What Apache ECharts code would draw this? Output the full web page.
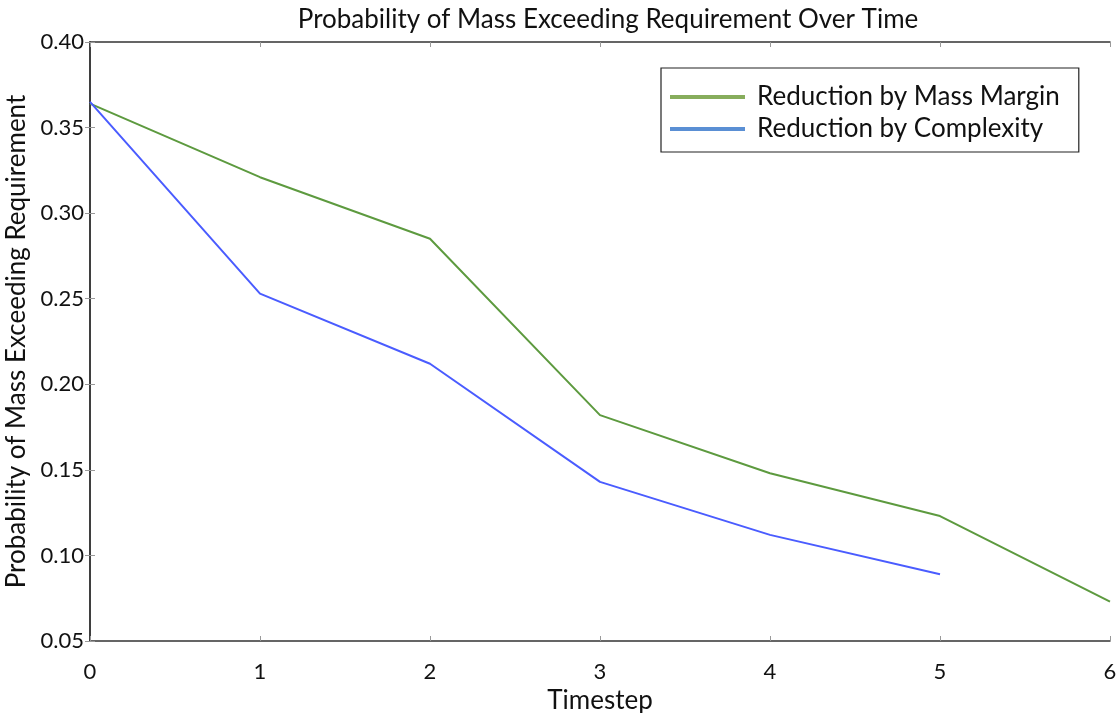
<!DOCTYPE html>
<html>
<head>
<meta charset="utf-8">
<script src="https://cdn.jsdelivr.net/npm/echarts@6/dist/echarts.min.js"></script>
<style>html,body{margin:0;padding:0;background:#fff}#c{width:1119px;height:713px}</style>
</head>
<body>
<div id="c"></div>
<script>
var timesteps = [0, 1, 2, 3, 4, 5, 6];
var massMargin = [0.364, 0.321, 0.285, 0.182, 0.148, 0.123, 0.073];
var complexity = [0.365, 0.253, 0.212, 0.143, 0.112, 0.089];
var seriesNames = ['Reduction by Mass Margin', 'Reduction by Complexity'];

var FONT = 'Lato, "Open Sans", sans-serif';
function pairs(ys){ return ys.map(function(v,i){ return [timesteps[i], v]; }); }

var chart = echarts.init(document.getElementById('c'));
var axisLine = {show:true, lineStyle:{color:'#333', width:1.5}};
var tick = {show:true, inside:true, length:5, lineStyle:{color:'#999', width:1}};
chart.setOption({
  animation:false,
  title:{text:'Probability of Mass Exceeding Requirement Over Time', left:603, top:2, textAlign:'center',
    textStyle:{fontFamily:FONT, fontSize:26, fontWeight:'normal', color:'#111'}},
  grid:{left:90, right:9, top:42, bottom:72, outerBoundsMode:'none', containLabel:false},
  legend:{
    orient:'vertical', left:661, top:68, itemWidth:75, itemHeight:4, itemGap:6,
    padding:[16,19,10,9], borderColor:'#222', borderWidth:1.2, backgroundColor:'#fff',
    textStyle:{fontFamily:FONT, fontSize:26, color:'#111', padding:[0,0,0,7]},
    data:[
      {name:seriesNames[0], icon:'rect', itemStyle:{color:'#87ad5c'}},
      {name:seriesNames[1], icon:'rect', itemStyle:{color:'#5a8fd4'}}
    ]
  },
  xAxis:[
    {type:'value', min:0, max:6, interval:1, position:'bottom', axisLine:axisLine, axisTick:tick,
     splitLine:{show:false}, axisLabel:{fontFamily:FONT, fontSize:22, color:'#111', margin:20},
     name:'Timestep', nameLocation:'middle', nameGap:42,
     nameTextStyle:{fontFamily:FONT, fontSize:26, color:'#111'}},
    {type:'value', min:0, max:6, interval:1, position:'top', axisLine:axisLine, axisTick:tick,
     splitLine:{show:false}, axisLabel:{show:false}}
  ],
  yAxis:[
    {type:'value', min:0.05, max:0.40, interval:0.05, position:'left', axisLine:axisLine, axisTick:tick,
     splitLine:{show:false},
     axisLabel:{fontFamily:FONT, fontSize:22, color:'#111', margin:6, formatter:function(v){return v.toFixed(2);}},
     name:'Probability of Mass Exceeding Requirement', nameLocation:'middle', nameGap:57,
     nameTextStyle:{fontFamily:FONT, fontSize:26, color:'#111'}},
    {type:'value', min:0.05, max:0.40, interval:0.05, position:'right', axisLine:axisLine, axisTick:tick,
     splitLine:{show:false}, axisLabel:{show:false}}
  ],
  series:[
    {name:seriesNames[0], type:'line', data:pairs(massMargin), showSymbol:false, symbol:'none',
     lineStyle:{color:'#5d9a3f', width:2}, itemStyle:{color:'#5d9a3f'}},
    {name:seriesNames[1], type:'line', data:pairs(complexity), showSymbol:false, symbol:'none',
     lineStyle:{color:'#4a5cff', width:2}, itemStyle:{color:'#4a5cff'}}
  ]
});
</script>
</body>
</html>
